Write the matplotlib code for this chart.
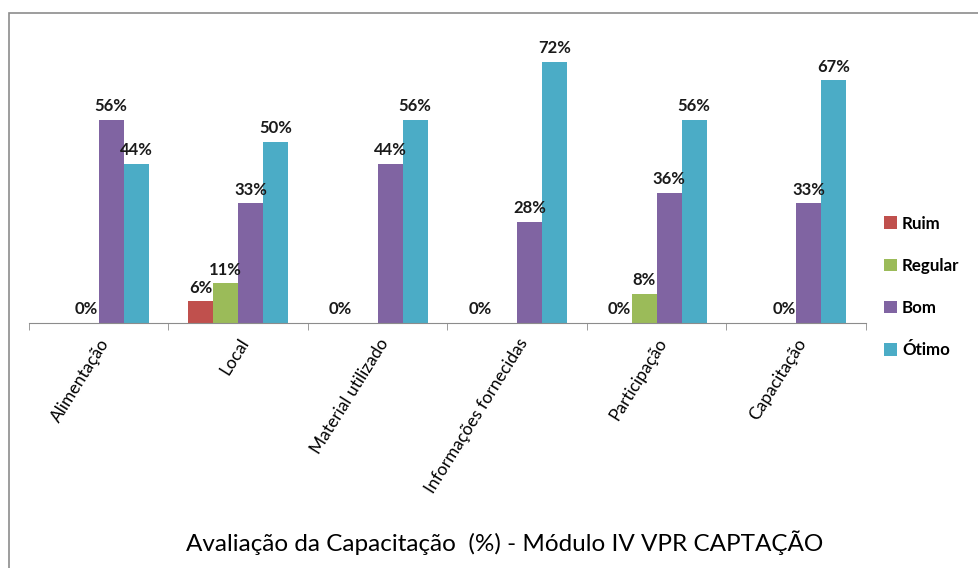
import numpy as np
import matplotlib
matplotlib.use("Agg")
import matplotlib.pyplot as plt
from matplotlib.patches import Rectangle

plt.rcParams['font.family'] = ['Lato', 'DejaVu Sans']

categories = ['Alimentação', 'Local', 'Material utilizado',
              'Informações fornecidas', 'Participação', 'Capacitação']
series = ['Ruim', 'Regular', 'Bom', 'Ótimo']
ruim = [np.nan, 6, 0, 0, 0, np.nan]
regular = [0, 11, np.nan, np.nan, 8, 0]
bom = [56, 33, 44, 28, 36, 33]
otimo = [44, 50, 56, 72, 56, 67]
colors = ['#C0504D', '#9BBB59', '#8064A2', '#4BACC6']
title = 'Avaliação da Capacitação  (%) - Módulo IV VPR CAPTAÇÃO'

fig = plt.figure(figsize=(9.79, 5.68), dpi=100)
ax = fig.add_axes([29/979, 1-323/568, (866-29)/979, 290/568])

x = np.arange(len(categories))
w = 0.179
for k, (name, vals, c) in enumerate(zip(series, [ruim, regular, bom, otimo], colors)):
    xs = x + (k - 1.5) * w
    ax.bar(xs, vals, width=w, color=c, label=name)
    for xi, v in zip(xs, vals):
        if np.isnan(v):
            continue
        ax.annotate(f'{v:.0f}%', (xi, v), xytext=(0, 4), textcoords='offset points',
                    ha='center', va='bottom', fontsize=12, fontweight='bold',
                    color='#1a1a1a')

ax.set_xlim(-0.5, len(categories) - 0.5)
ax.set_ylim(0, 80)
for s in ['top', 'right', 'left']:
    ax.spines[s].set_visible(False)
ax.spines['bottom'].set_color('#8c8c8c')
ax.set_yticks([])
ax.set_xticks(x)
ax.set_xticklabels(categories, rotation=58, ha='right', va='top',
                   rotation_mode='anchor', fontsize=12.5)
ax.tick_params(axis='x', which='major', length=0, pad=9)
ax.set_xticks(np.arange(len(categories) + 1) - 0.5, minor=True)
ax.tick_params(axis='x', which='minor', length=5, color='#8c8c8c')

ax.legend(loc='center left', bbox_to_anchor=(869/979, 1-287/568),
          bbox_transform=fig.transFigure, frameon=False,
          prop={'weight': 'bold', 'size': 12.2}, handlelength=0.75,
          handleheight=0.75, handletextpad=0.3, labelspacing=1.55)

fig.text(505/979, 1-543/568, title, ha='center', va='center', fontsize=17.5)

fig.patches.append(Rectangle((9/979, -0.1), 1.2, 1.1 - 13/568, transform=fig.transFigure,
                             fill=False, edgecolor='#8c8c8c', linewidth=1.2))

fig.savefig('out.png', dpi=100)
